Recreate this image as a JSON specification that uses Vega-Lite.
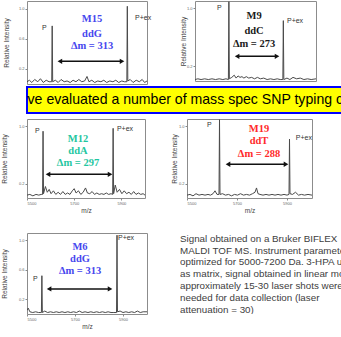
{
  "$schema": "https://vega.github.io/schema/vega-lite/v6.json",
  "padding": 0,
  "background": "#ffffff",
  "config": {
    "view": {"stroke": "#8c8c8c", "strokeWidth": 1},
    "font": "Liberation Sans",
    "axis": {"labelFontSize": 4, "titleFontSize": 6.5, "titleFontWeight": "normal", "labelColor": "#666666", "titleColor": "#444444", "tickColor": "#888888", "tickSize": 2, "domain": false, "grid": false, "labelPadding": 1, "labelOverlap": false}
  },
  "datasets": {
    "spectra": [
      {"p":"TL","mz":5500,"int":0.03},{"p":"TL","mz":5510,"int":0.05},{"p":"TL","mz":5520,"int":0.02},{"p":"TL","mz":5532,"int":0.06},{"p":"TL","mz":5545,"int":0.03},{"p":"TL","mz":5556,"int":0.07},{"p":"TL","mz":5568,"int":0.02},{"p":"TL","mz":5580,"int":0.05},{"p":"TL","mz":5592,"int":0.03},{"p":"TL","mz":5603,"int":0.03},{"p":"TL","mz":5605,"int":0.77},{"p":"TL","mz":5607,"int":0.03},{"p":"TL","mz":5618,"int":0.05},{"p":"TL","mz":5630,"int":0.02},{"p":"TL","mz":5642,"int":0.06},{"p":"TL","mz":5655,"int":0.03},{"p":"TL","mz":5667,"int":0.04},{"p":"TL","mz":5680,"int":0.02},{"p":"TL","mz":5692,"int":0.05},{"p":"TL","mz":5704,"int":0.03},{"p":"TL","mz":5716,"int":0.06},{"p":"TL","mz":5728,"int":0.03},{"p":"TL","mz":5740,"int":0.04},{"p":"TL","mz":5750,"int":0.1},{"p":"TL","mz":5758,"int":0.03},{"p":"TL","mz":5770,"int":0.05},{"p":"TL","mz":5782,"int":0.02},{"p":"TL","mz":5795,"int":0.04},{"p":"TL","mz":5808,"int":0.03},{"p":"TL","mz":5820,"int":0.05},{"p":"TL","mz":5832,"int":0.02},{"p":"TL","mz":5845,"int":0.04},{"p":"TL","mz":5858,"int":0.03},{"p":"TL","mz":5870,"int":0.05},{"p":"TL","mz":5882,"int":0.02},{"p":"TL","mz":5895,"int":0.04},{"p":"TL","mz":5906,"int":0.03},{"p":"TL","mz":5916,"int":0.03},{"p":"TL","mz":5918,"int":1.03},{"p":"TL","mz":5920,"int":0.04},{"p":"TL","mz":5930,"int":0.06},{"p":"TL","mz":5942,"int":0.02},{"p":"TL","mz":5955,"int":0.05},{"p":"TL","mz":5968,"int":0.03},{"p":"TL","mz":5980,"int":0.06},{"p":"TL","mz":5990,"int":0.02},{"p":"TL","mz":6000,"int":0.04},
      {"p":"TR","mz":5500,"int":0.02},{"p":"TR","mz":5512,"int":0.03},{"p":"TR","mz":5525,"int":0.02},{"p":"TR","mz":5540,"int":0.03},{"p":"TR","mz":5555,"int":0.02},{"p":"TR","mz":5570,"int":0.03},{"p":"TR","mz":5585,"int":0.02},{"p":"TR","mz":5600,"int":0.03},{"p":"TR","mz":5615,"int":0.02},{"p":"TR","mz":5628,"int":0.03},{"p":"TR","mz":5638,"int":0.02},{"p":"TR","mz":5640,"int":1.09},{"p":"TR","mz":5642,"int":0.03},{"p":"TR","mz":5652,"int":0.05},{"p":"TR","mz":5662,"int":0.08},{"p":"TR","mz":5670,"int":0.04},{"p":"TR","mz":5678,"int":0.07},{"p":"TR","mz":5686,"int":0.05},{"p":"TR","mz":5694,"int":0.06},{"p":"TR","mz":5702,"int":0.04},{"p":"TR","mz":5712,"int":0.06},{"p":"TR","mz":5722,"int":0.04},{"p":"TR","mz":5734,"int":0.05},{"p":"TR","mz":5746,"int":0.03},{"p":"TR","mz":5758,"int":0.05},{"p":"TR","mz":5770,"int":0.03},{"p":"TR","mz":5784,"int":0.04},{"p":"TR","mz":5798,"int":0.02},{"p":"TR","mz":5812,"int":0.03},{"p":"TR","mz":5826,"int":0.02},{"p":"TR","mz":5840,"int":0.03},{"p":"TR","mz":5852,"int":0.02},{"p":"TR","mz":5863,"int":0.02},{"p":"TR","mz":5865,"int":0.83},{"p":"TR","mz":5867,"int":0.02},{"p":"TR","mz":5880,"int":0.04},{"p":"TR","mz":5892,"int":0.02},{"p":"TR","mz":5905,"int":0.05},{"p":"TR","mz":5920,"int":0.03},{"p":"TR","mz":5935,"int":0.04},{"p":"TR","mz":5950,"int":0.02},{"p":"TR","mz":5965,"int":0.03},{"p":"TR","mz":5980,"int":0.02},{"p":"TR","mz":6000,"int":0.03},
      {"p":"ML","mz":5500,"int":0.04},{"p":"ML","mz":5512,"int":0.05},{"p":"ML","mz":5525,"int":0.03},{"p":"ML","mz":5538,"int":0.05},{"p":"ML","mz":5550,"int":0.04},{"p":"ML","mz":5560,"int":0.05},{"p":"ML","mz":5566,"int":0.05},{"p":"ML","mz":5568,"int":0.93},{"p":"ML","mz":5570,"int":0.06},{"p":"ML","mz":5578,"int":0.16},{"p":"ML","mz":5586,"int":0.08},{"p":"ML","mz":5594,"int":0.12},{"p":"ML","mz":5602,"int":0.06},{"p":"ML","mz":5612,"int":0.1},{"p":"ML","mz":5622,"int":0.05},{"p":"ML","mz":5632,"int":0.08},{"p":"ML","mz":5642,"int":0.05},{"p":"ML","mz":5652,"int":0.09},{"p":"ML","mz":5662,"int":0.05},{"p":"ML","mz":5672,"int":0.07},{"p":"ML","mz":5682,"int":0.05},{"p":"ML","mz":5692,"int":0.1},{"p":"ML","mz":5700,"int":0.13},{"p":"ML","mz":5708,"int":0.07},{"p":"ML","mz":5718,"int":0.1},{"p":"ML","mz":5728,"int":0.05},{"p":"ML","mz":5738,"int":0.08},{"p":"ML","mz":5748,"int":0.14},{"p":"ML","mz":5756,"int":0.07},{"p":"ML","mz":5766,"int":0.06},{"p":"ML","mz":5776,"int":0.09},{"p":"ML","mz":5786,"int":0.05},{"p":"ML","mz":5796,"int":0.07},{"p":"ML","mz":5806,"int":0.05},{"p":"ML","mz":5816,"int":0.06},{"p":"ML","mz":5826,"int":0.05},{"p":"ML","mz":5836,"int":0.07},{"p":"ML","mz":5846,"int":0.05},{"p":"ML","mz":5856,"int":0.06},{"p":"ML","mz":5863,"int":0.05},{"p":"ML","mz":5865,"int":0.97},{"p":"ML","mz":5867,"int":0.06},{"p":"ML","mz":5874,"int":0.18},{"p":"ML","mz":5882,"int":0.08},{"p":"ML","mz":5892,"int":0.12},{"p":"ML","mz":5902,"int":0.06},{"p":"ML","mz":5912,"int":0.1},{"p":"ML","mz":5922,"int":0.06},{"p":"ML","mz":5932,"int":0.08},{"p":"ML","mz":5942,"int":0.05},{"p":"ML","mz":5952,"int":0.09},{"p":"ML","mz":5962,"int":0.05},{"p":"ML","mz":5972,"int":0.07},{"p":"ML","mz":5982,"int":0.05},{"p":"ML","mz":5992,"int":0.06},{"p":"ML","mz":6000,"int":0.04},
      {"p":"MR","mz":5500,"int":0.04},{"p":"MR","mz":5512,"int":0.05},{"p":"MR","mz":5524,"int":0.03},{"p":"MR","mz":5536,"int":0.06},{"p":"MR","mz":5548,"int":0.04},{"p":"MR","mz":5560,"int":0.05},{"p":"MR","mz":5572,"int":0.04},{"p":"MR","mz":5584,"int":0.05},{"p":"MR","mz":5594,"int":0.04},{"p":"MR","mz":5604,"int":0.06},{"p":"MR","mz":5612,"int":0.1},{"p":"MR","mz":5620,"int":0.05},{"p":"MR","mz":5628,"int":0.05},{"p":"MR","mz":5630,"int":1.09},{"p":"MR","mz":5632,"int":0.05},{"p":"MR","mz":5642,"int":0.06},{"p":"MR","mz":5654,"int":0.04},{"p":"MR","mz":5666,"int":0.05},{"p":"MR","mz":5678,"int":0.03},{"p":"MR","mz":5690,"int":0.05},{"p":"MR","mz":5702,"int":0.04},{"p":"MR","mz":5714,"int":0.06},{"p":"MR","mz":5726,"int":0.04},{"p":"MR","mz":5738,"int":0.05},{"p":"MR","mz":5750,"int":0.04},{"p":"MR","mz":5762,"int":0.06},{"p":"MR","mz":5772,"int":0.08},{"p":"MR","mz":5778,"int":0.14},{"p":"MR","mz":5784,"int":0.06},{"p":"MR","mz":5792,"int":0.05},{"p":"MR","mz":5804,"int":0.04},{"p":"MR","mz":5816,"int":0.05},{"p":"MR","mz":5828,"int":0.04},{"p":"MR","mz":5840,"int":0.05},{"p":"MR","mz":5852,"int":0.04},{"p":"MR","mz":5864,"int":0.05},{"p":"MR","mz":5876,"int":0.04},{"p":"MR","mz":5888,"int":0.05},{"p":"MR","mz":5900,"int":0.04},{"p":"MR","mz":5908,"int":0.05},{"p":"MR","mz":5910,"int":0.82},{"p":"MR","mz":5912,"int":0.06},{"p":"MR","mz":5922,"int":0.05},{"p":"MR","mz":5934,"int":0.08},{"p":"MR","mz":5946,"int":0.04},{"p":"MR","mz":5958,"int":0.05},{"p":"MR","mz":5970,"int":0.04},{"p":"MR","mz":5984,"int":0.05},{"p":"MR","mz":6000,"int":0.04},
      {"p":"BL","mz":5500,"int":0.05},{"p":"BL","mz":5505,"int":0.08},{"p":"BL","mz":5512,"int":0.03},{"p":"BL","mz":5524,"int":0.02},{"p":"BL","mz":5536,"int":0.03},{"p":"BL","mz":5548,"int":0.02},{"p":"BL","mz":5558,"int":0.02},{"p":"BL","mz":5560,"int":0.02},{"p":"BL","mz":5562,"int":0.52},{"p":"BL","mz":5564,"int":0.02},{"p":"BL","mz":5574,"int":0.04},{"p":"BL","mz":5586,"int":0.02},{"p":"BL","mz":5598,"int":0.03},{"p":"BL","mz":5610,"int":0.02},{"p":"BL","mz":5622,"int":0.03},{"p":"BL","mz":5634,"int":0.02},{"p":"BL","mz":5646,"int":0.03},{"p":"BL","mz":5658,"int":0.02},{"p":"BL","mz":5670,"int":0.03},{"p":"BL","mz":5682,"int":0.02},{"p":"BL","mz":5694,"int":0.03},{"p":"BL","mz":5706,"int":0.02},{"p":"BL","mz":5718,"int":0.04},{"p":"BL","mz":5730,"int":0.02},{"p":"BL","mz":5742,"int":0.03},{"p":"BL","mz":5754,"int":0.02},{"p":"BL","mz":5766,"int":0.03},{"p":"BL","mz":5778,"int":0.02},{"p":"BL","mz":5790,"int":0.03},{"p":"BL","mz":5802,"int":0.02},{"p":"BL","mz":5814,"int":0.03},{"p":"BL","mz":5826,"int":0.02},{"p":"BL","mz":5838,"int":0.03},{"p":"BL","mz":5850,"int":0.02},{"p":"BL","mz":5862,"int":0.02},{"p":"BL","mz":5873,"int":0.02},{"p":"BL","mz":5875,"int":1.07},{"p":"BL","mz":5877,"int":0.03},{"p":"BL","mz":5888,"int":0.04},{"p":"BL","mz":5900,"int":0.02},{"p":"BL","mz":5912,"int":0.03},{"p":"BL","mz":5924,"int":0.02},{"p":"BL","mz":5936,"int":0.03},{"p":"BL","mz":5948,"int":0.02},{"p":"BL","mz":5960,"int":0.04},{"p":"BL","mz":5972,"int":0.02},{"p":"BL","mz":5984,"int":0.03},{"p":"BL","mz":6000,"int":0.03}
    ],
    "titles": [
      {"p":"TL","mz":5771,"int":0.86,"t":"M15"},{"p":"TL","mz":5771,"int":0.66,"t":"ddG"},{"p":"TL","mz":5771,"int":0.5,"t":"Δm = 313"},
      {"p":"TR","mz":5744,"int":0.89,"t":"M9"},{"p":"TR","mz":5744,"int":0.69,"t":"ddC"},{"p":"TR","mz":5744,"int":0.51,"t":"Δm = 273"},
      {"p":"ML","mz":5716,"int":0.82,"t":"M12"},{"p":"ML","mz":5716,"int":0.65,"t":"ddA"},{"p":"ML","mz":5716,"int":0.49,"t":"Δm = 297"},
      {"p":"MR","mz":5788,"int":0.96,"t":"M19"},{"p":"MR","mz":5788,"int":0.79,"t":"ddT"},{"p":"MR","mz":5788,"int":0.61,"t":"Δm = 288"},
      {"p":"BL","mz":5721,"int":0.91,"t":"M6"},{"p":"BL","mz":5721,"int":0.75,"t":"ddG"},{"p":"BL","mz":5721,"int":0.58,"t":"Δm = 313"}
    ],
    "peaks": [
      {"p":"TL","mz":5562,"int":0.74,"t":"P"},{"p":"TL","mz":5950,"int":0.87,"t":"P+ex"},
      {"p":"TR","mz":5591,"int":1.0,"t":"P"},{"p":"TR","mz":5880,"int":0.83,"t":"P+ex"},
      {"p":"ML","mz":5534,"int":0.93,"t":"P"},{"p":"ML","mz":5881,"int":0.96,"t":"P+ex"},
      {"p":"MR","mz":5580,"int":1.02,"t":"P"},{"p":"MR","mz":5935,"int":0.84,"t":"P+ex"},
      {"p":"BL","mz":5525,"int":0.48,"t":"P"},{"p":"BL","mz":5879,"int":1.03,"t":"P+ex"}
    ],
    "arrows": [
      {"p":"TL","mz":5637,"mz2":5896,"int":0.3},
      {"p":"TR","mz":5674,"mz2":5839,"int":0.34},
      {"p":"ML","mz":5589,"mz2":5852,"int":0.33},
      {"p":"MR","mz":5664,"mz2":5896,"int":0.47},
      {"p":"BL","mz":5592,"mz2":5846,"int":0.34}
    ]
  },
  "concat": [
    {
      "concat": [
        {
          "concat": [
            {
              "width": 120, "height": 83,
              "layer": [
                {"data": {"name": "spectra"}, "transform": [{"filter": "datum.p === 'TL'"}], "mark": {"type": "line", "color": "#4a4a4a", "strokeWidth": 1, "clip": true},
                 "encoding": {"x": {"field": "mz", "type": "quantitative", "scale": {"domain": [5500, 6000]}, "axis": null},
                              "y": {"field": "int", "type": "quantitative", "scale": {"domain": [0, 1.1]}, "axis": {"title": "Relative Intensity", "values": [0.2, 0.4, 0.6, 0.8, 1.0], "format": ".1f", "titlePadding": 9}}}},
                {"data": {"name": "arrows"}, "transform": [{"filter": "datum.p === 'TL'"}], "mark": {"type": "rule", "color": "#111111", "strokeWidth": 1.5}, "encoding": {"x": {"field": "mz", "type": "quantitative"}, "x2": {"field": "mz2"}, "y": {"field": "int", "type": "quantitative"}}},
                {"data": {"name": "arrows"}, "transform": [{"filter": "datum.p === 'TL'"}], "mark": {"type": "point", "shape": "triangle-left", "filled": true, "color": "#111111", "size": 28, "opacity": 1}, "encoding": {"x": {"field": "mz", "type": "quantitative"}, "y": {"field": "int", "type": "quantitative"}}},
                {"data": {"name": "arrows"}, "transform": [{"filter": "datum.p === 'TL'"}], "mark": {"type": "point", "shape": "triangle-right", "filled": true, "color": "#111111", "size": 28, "opacity": 1}, "encoding": {"x": {"field": "mz2", "type": "quantitative"}, "y": {"field": "int", "type": "quantitative"}}},
                {"data": {"name": "titles"}, "transform": [{"filter": "datum.p === 'TL'"}], "mark": {"type": "text", "font": "Liberation Serif", "fontSize": 10.5, "fontWeight": "bold", "baseline": "middle"},
                 "encoding": {"x": {"field": "mz", "type": "quantitative"}, "y": {"field": "int", "type": "quantitative"}, "text": {"field": "t"}, "color": {"field": "p", "type": "nominal", "scale": {"domain": ["TL", "TR", "ML", "MR", "BL"], "range": ["#4646ee", "#1a1a1a", "#1fc6a0", "#ff2a2a", "#4646ee"]}, "legend": null}}},
                {"data": {"name": "peaks"}, "transform": [{"filter": "datum.p === 'TL'"}], "mark": {"type": "text", "fontSize": 7, "align": "left", "baseline": "middle", "color": "#333333"},
                 "encoding": {"x": {"field": "mz", "type": "quantitative"}, "y": {"field": "int", "type": "quantitative"}, "text": {"field": "t"}}}
              ]
            },
            {
              "width": 121, "height": 80,
              "layer": [
                {"data": {"name": "spectra"}, "transform": [{"filter": "datum.p === 'TR'"}], "mark": {"type": "line", "color": "#4a4a4a", "strokeWidth": 1, "clip": true},
                 "encoding": {"x": {"field": "mz", "type": "quantitative", "scale": {"domain": [5500, 6000]}, "axis": null},
                              "y": {"field": "int", "type": "quantitative", "scale": {"domain": [0, 1.1]}, "axis": {"title": "Relative Intensity", "values": [0.2, 0.4, 0.6, 0.8, 1.0], "format": ".1f", "titlePadding": 0}}}},
                {"data": {"name": "arrows"}, "transform": [{"filter": "datum.p === 'TR'"}], "mark": {"type": "rule", "color": "#111111", "strokeWidth": 1.5}, "encoding": {"x": {"field": "mz", "type": "quantitative"}, "x2": {"field": "mz2"}, "y": {"field": "int", "type": "quantitative"}}},
                {"data": {"name": "arrows"}, "transform": [{"filter": "datum.p === 'TR'"}], "mark": {"type": "point", "shape": "triangle-left", "filled": true, "color": "#111111", "size": 28, "opacity": 1}, "encoding": {"x": {"field": "mz", "type": "quantitative"}, "y": {"field": "int", "type": "quantitative"}}},
                {"data": {"name": "arrows"}, "transform": [{"filter": "datum.p === 'TR'"}], "mark": {"type": "point", "shape": "triangle-right", "filled": true, "color": "#111111", "size": 28, "opacity": 1}, "encoding": {"x": {"field": "mz2", "type": "quantitative"}, "y": {"field": "int", "type": "quantitative"}}},
                {"data": {"name": "titles"}, "transform": [{"filter": "datum.p === 'TR'"}], "mark": {"type": "text", "font": "Liberation Serif", "fontSize": 10.5, "fontWeight": "bold", "baseline": "middle"},
                 "encoding": {"x": {"field": "mz", "type": "quantitative"}, "y": {"field": "int", "type": "quantitative"}, "text": {"field": "t"}, "color": {"field": "p", "type": "nominal", "scale": {"domain": ["TL", "TR", "ML", "MR", "BL"], "range": ["#4646ee", "#1a1a1a", "#1fc6a0", "#ff2a2a", "#4646ee"]}, "legend": null}}},
                {"data": {"name": "peaks"}, "transform": [{"filter": "datum.p === 'TR'"}], "mark": {"type": "text", "fontSize": 7, "align": "left", "baseline": "middle", "color": "#333333"},
                 "encoding": {"x": {"field": "mz", "type": "quantitative"}, "y": {"field": "int", "type": "quantitative"}, "text": {"field": "t"}}}
              ]
            }
          ],
          "spacing": 27, "align": "none"
        },
        {
          "width": 345, "height": 26,
          "view": {"fill": "#ffff00", "stroke": "#0000ff", "strokeWidth": 2},
          "data": {"values": [{"t": "We've evaluated a number of mass spec SNP typing chemistries"}]},
          "mark": {"type": "text", "align": "left", "baseline": "middle", "fontSize": 14.1, "font": "Liberation Sans", "color": "#000000", "clip": true, "dx": -23},
          "encoding": {"x": {"datum": 0, "type": "quantitative", "scale": {"domain": [0, 1]}, "axis": null}, "y": {"datum": 0.5, "type": "quantitative", "scale": {"domain": [0, 1]}, "axis": null}, "text": {"field": "t"}}
        }
      ],
      "columns": 1, "spacing": 1, "align": "none"
    },
    {
      "concat": [
        {
          "concat": [
            {
              "width": 118, "height": 79,
              "layer": [
                {"data": {"name": "spectra"}, "transform": [{"filter": "datum.p === 'ML'"}], "mark": {"type": "line", "color": "#4a4a4a", "strokeWidth": 1, "clip": true},
                 "encoding": {"x": {"field": "mz", "type": "quantitative", "scale": {"domain": [5500, 6000]}, "axis": {"title": "m/z", "values": [5500, 5600, 5700, 5800, 5900, 6000], "format": "d", "titlePadding": 2}},
                              "y": {"field": "int", "type": "quantitative", "scale": {"domain": [0, 1.1]}, "axis": {"title": "Relative Intensity", "values": [0.2, 0.4, 0.6, 0.8, 1.0], "format": ".1f", "titlePadding": 11}}}},
                {"data": {"name": "arrows"}, "transform": [{"filter": "datum.p === 'ML'"}], "mark": {"type": "rule", "color": "#111111", "strokeWidth": 1.5}, "encoding": {"x": {"field": "mz", "type": "quantitative"}, "x2": {"field": "mz2"}, "y": {"field": "int", "type": "quantitative"}}},
                {"data": {"name": "arrows"}, "transform": [{"filter": "datum.p === 'ML'"}], "mark": {"type": "point", "shape": "triangle-left", "filled": true, "color": "#111111", "size": 28, "opacity": 1}, "encoding": {"x": {"field": "mz", "type": "quantitative"}, "y": {"field": "int", "type": "quantitative"}}},
                {"data": {"name": "arrows"}, "transform": [{"filter": "datum.p === 'ML'"}], "mark": {"type": "point", "shape": "triangle-right", "filled": true, "color": "#111111", "size": 28, "opacity": 1}, "encoding": {"x": {"field": "mz2", "type": "quantitative"}, "y": {"field": "int", "type": "quantitative"}}},
                {"data": {"name": "titles"}, "transform": [{"filter": "datum.p === 'ML'"}], "mark": {"type": "text", "font": "Liberation Serif", "fontSize": 10.5, "fontWeight": "bold", "baseline": "middle"},
                 "encoding": {"x": {"field": "mz", "type": "quantitative"}, "y": {"field": "int", "type": "quantitative"}, "text": {"field": "t"}, "color": {"field": "p", "type": "nominal", "scale": {"domain": ["TL", "TR", "ML", "MR", "BL"], "range": ["#4646ee", "#1a1a1a", "#1fc6a0", "#ff2a2a", "#4646ee"]}, "legend": null}}},
                {"data": {"name": "peaks"}, "transform": [{"filter": "datum.p === 'ML'"}], "mark": {"type": "text", "fontSize": 7, "align": "left", "baseline": "middle", "color": "#333333"},
                 "encoding": {"x": {"field": "mz", "type": "quantitative"}, "y": {"field": "int", "type": "quantitative"}, "text": {"field": "t"}}}
              ]
            },
            {
              "width": 125, "height": 79,
              "layer": [
                {"data": {"name": "spectra"}, "transform": [{"filter": "datum.p === 'MR'"}], "mark": {"type": "line", "color": "#4a4a4a", "strokeWidth": 1, "clip": true},
                 "encoding": {"x": {"field": "mz", "type": "quantitative", "scale": {"domain": [5500, 6000]}, "axis": {"title": "m/z", "values": [5500, 5600, 5700, 5800, 5900, 6000], "format": "d", "titlePadding": 2}},
                              "y": {"field": "int", "type": "quantitative", "scale": {"domain": [0, 1.1]}, "axis": {"title": "Relative Intensity", "values": [0.2, 0.4, 0.6, 0.8, 1.0], "format": ".1f", "titlePadding": 1}}}},
                {"data": {"name": "arrows"}, "transform": [{"filter": "datum.p === 'MR'"}], "mark": {"type": "rule", "color": "#111111", "strokeWidth": 1.5}, "encoding": {"x": {"field": "mz", "type": "quantitative"}, "x2": {"field": "mz2"}, "y": {"field": "int", "type": "quantitative"}}},
                {"data": {"name": "arrows"}, "transform": [{"filter": "datum.p === 'MR'"}], "mark": {"type": "point", "shape": "triangle-left", "filled": true, "color": "#111111", "size": 28, "opacity": 1}, "encoding": {"x": {"field": "mz", "type": "quantitative"}, "y": {"field": "int", "type": "quantitative"}}},
                {"data": {"name": "arrows"}, "transform": [{"filter": "datum.p === 'MR'"}], "mark": {"type": "point", "shape": "triangle-right", "filled": true, "color": "#111111", "size": 28, "opacity": 1}, "encoding": {"x": {"field": "mz2", "type": "quantitative"}, "y": {"field": "int", "type": "quantitative"}}},
                {"data": {"name": "titles"}, "transform": [{"filter": "datum.p === 'MR'"}], "mark": {"type": "text", "font": "Liberation Serif", "fontSize": 10.5, "fontWeight": "bold", "baseline": "middle"},
                 "encoding": {"x": {"field": "mz", "type": "quantitative"}, "y": {"field": "int", "type": "quantitative"}, "text": {"field": "t"}, "color": {"field": "p", "type": "nominal", "scale": {"domain": ["TL", "TR", "ML", "MR", "BL"], "range": ["#4646ee", "#1a1a1a", "#1fc6a0", "#ff2a2a", "#4646ee"]}, "legend": null}}},
                {"data": {"name": "peaks"}, "transform": [{"filter": "datum.p === 'MR'"}], "mark": {"type": "text", "fontSize": 7, "align": "left", "baseline": "middle", "color": "#333333"},
                 "encoding": {"x": {"field": "mz", "type": "quantitative"}, "y": {"field": "int", "type": "quantitative"}, "text": {"field": "t"}}}
              ]
            }
          ],
          "spacing": 24, "align": "none"
        },
        {
          "concat": [
            {
              "width": 120, "height": 81,
              "layer": [
                {"data": {"name": "spectra"}, "transform": [{"filter": "datum.p === 'BL'"}], "mark": {"type": "line", "color": "#4a4a4a", "strokeWidth": 1, "clip": true},
                 "encoding": {"x": {"field": "mz", "type": "quantitative", "scale": {"domain": [5500, 6000]}, "axis": {"title": "m/z", "values": [5500, 5600, 5700, 5800, 5900, 6000], "format": "d", "titlePadding": 2}},
                              "y": {"field": "int", "type": "quantitative", "scale": {"domain": [0, 1.1]}, "axis": {"title": "Relative Intensity", "values": [0.2, 0.4, 0.6, 0.8, 1.0], "format": ".1f", "titlePadding": 11}}}},
                {"data": {"name": "arrows"}, "transform": [{"filter": "datum.p === 'BL'"}], "mark": {"type": "rule", "color": "#111111", "strokeWidth": 1.5}, "encoding": {"x": {"field": "mz", "type": "quantitative"}, "x2": {"field": "mz2"}, "y": {"field": "int", "type": "quantitative"}}},
                {"data": {"name": "arrows"}, "transform": [{"filter": "datum.p === 'BL'"}], "mark": {"type": "point", "shape": "triangle-left", "filled": true, "color": "#111111", "size": 28, "opacity": 1}, "encoding": {"x": {"field": "mz", "type": "quantitative"}, "y": {"field": "int", "type": "quantitative"}}},
                {"data": {"name": "arrows"}, "transform": [{"filter": "datum.p === 'BL'"}], "mark": {"type": "point", "shape": "triangle-right", "filled": true, "color": "#111111", "size": 28, "opacity": 1}, "encoding": {"x": {"field": "mz2", "type": "quantitative"}, "y": {"field": "int", "type": "quantitative"}}},
                {"data": {"name": "titles"}, "transform": [{"filter": "datum.p === 'BL'"}], "mark": {"type": "text", "font": "Liberation Serif", "fontSize": 10.5, "fontWeight": "bold", "baseline": "middle"},
                 "encoding": {"x": {"field": "mz", "type": "quantitative"}, "y": {"field": "int", "type": "quantitative"}, "text": {"field": "t"}, "color": {"field": "p", "type": "nominal", "scale": {"domain": ["TL", "TR", "ML", "MR", "BL"], "range": ["#4646ee", "#1a1a1a", "#1fc6a0", "#ff2a2a", "#4646ee"]}, "legend": null}}},
                {"data": {"name": "peaks"}, "transform": [{"filter": "datum.p === 'BL'"}], "mark": {"type": "text", "fontSize": 7, "align": "left", "baseline": "middle", "color": "#333333"},
                 "encoding": {"x": {"field": "mz", "type": "quantitative"}, "y": {"field": "int", "type": "quantitative"}, "text": {"field": "t"}}}
              ]
            },
            {
              "width": 170, "height": 81,
              "view": {"stroke": null},
              "data": {"values": [
                {"line": 0, "t": "Signal obtained on a Bruker BIFLEX"},
                {"line": 1, "t": "MALDI TOF MS.  Instrument parameters"},
                {"line": 2, "t": "optimized for 5000-7200 Da.  3-HPA used"},
                {"line": 3, "t": "as matrix, signal obtained in linear mode;"},
                {"line": 4, "t": "approximately 15-30 laser shots were"},
                {"line": 5, "t": "needed for data collection (laser"},
                {"line": 6, "t": "attenuation = 30)"}
              ]},
              "mark": {"type": "text", "align": "left", "baseline": "middle", "fontSize": 9.8, "font": "Liberation Sans", "color": "#404040", "clip": true},
              "encoding": {"x": {"datum": 0, "type": "quantitative", "scale": {"domain": [0, 1]}, "axis": null}, "y": {"field": "line", "type": "quantitative", "scale": {"domain": [-0.5, 6.37], "reverse": true}, "axis": null}, "text": {"field": "t"}}
            }
          ],
          "spacing": 32, "align": "none"
        }
      ],
      "columns": 1, "spacing": 18, "align": "none"
    }
  ],
  "columns": 1, "spacing": 4, "align": "none"
}
